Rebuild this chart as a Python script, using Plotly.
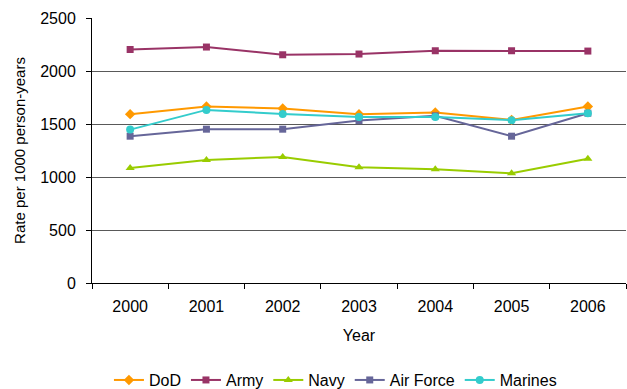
import plotly.graph_objects as go

years = ["2000", "2001", "2002", "2003", "2004", "2005", "2006"]
dod = [1593, 1665, 1646, 1593, 1608, 1539, 1665]
army = [2203, 2226, 2153, 2160, 2191, 2191, 2188]
navy = [1085, 1161, 1189, 1091, 1073, 1035, 1173]
air_force = [1385, 1451, 1451, 1532, 1577, 1385, 1602]
marines = [1447, 1633, 1595, 1567, 1567, 1536, 1602]

series = [
    ("DoD", dod, "#FF9900", "diamond", 8),
    ("Army", army, "#993366", "square", 7),
    ("Navy", navy, "#99CC00", "triangle-up", 8),
    ("Air Force", air_force, "#666699", "square", 7),
    ("Marines", marines, "#33CCCC", "circle", 8),
]

fig = go.Figure()
for name, vals, color, sym, size in series:
    fig.add_trace(go.Scatter(
        x=years, y=vals, name=name, mode="lines+markers",
        line=dict(color=color, width=2),
        marker=dict(symbol=sym, size=size, color=color),
    ))

font = "Liberation Sans, Arial, sans-serif"
fig.update_layout(
    width=627, height=389,
    margin=dict(l=92, r=1, t=18, b=106, autoexpand=False),
    paper_bgcolor="white", plot_bgcolor="white",
    font=dict(family=font, size=16, color="#000000"),
    showlegend=True,
    legend=dict(orientation="h", xref="container", x=0.535, xanchor="center",
                yref="container", y=0.023, yanchor="middle",
                font=dict(size=16), itemwidth=30, tracegroupgap=0),
    xaxis=dict(
        type="category", showline=True, linecolor="#000000", linewidth=1,
        ticks="outside", ticklen=5, tickcolor="#000000", tickson="boundaries",
        showgrid=False, automargin=False,
        title=dict(text="Year", standoff=15, font=dict(size=16)),
        tickfont=dict(size=16), range=[-0.5, 6.5], ticklabelstandoff=9,
    ),
    yaxis=dict(
        range=[0, 2500], dtick=500, showline=True, linecolor="#000000", linewidth=1,
        ticks="outside", ticklen=5, tickcolor="#000000", automargin=False,
        showgrid=True, gridcolor="#595959", gridwidth=1, zeroline=False,
        title=dict(text="Rate per 1000 person-years", standoff=10, font=dict(size=15)),
        tickfont=dict(size=16), ticklabelstandoff=7,
    ),
)

fig.write_html("out.html")
